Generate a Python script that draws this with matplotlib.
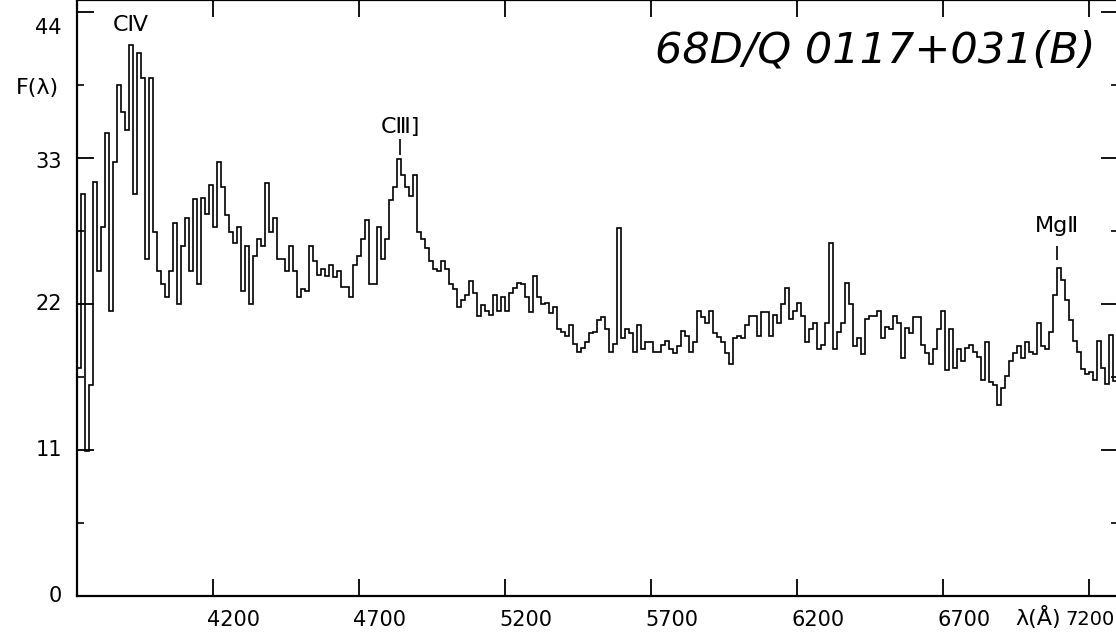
"""Quasar spectrum 68D/Q 0117+031(B), redrawn as a step plot."""
import numpy as np
import matplotlib
matplotlib.use("Agg")
import matplotlib.pyplot as plt
from matplotlib import font_manager

# spectrum: uniform wavelength bins, flux
WAVE_START = 3734.0   # Angstrom, first bin edge
BIN_WIDTH = 13.7      # Angstrom
FLUX = [
    17.2, 30.3, 10.9, 15.9, 31.2, 24.5, 27.8, 34.9, 21.5, 32.7,
    38.5, 36.5, 35.1, 41.5, 30.3, 40.9, 39.0, 25.4, 39.0, 27.4,
    24.5, 23.5, 22.5, 24.5, 28.1, 22.0, 26.4, 28.5, 24.5, 29.9,
    23.5, 30.0, 28.8, 31.0, 27.8, 32.7, 30.8, 28.7, 27.4, 26.6,
    27.8, 23.0, 26.4, 22.0, 25.6, 26.9, 26.4, 31.1, 27.4, 28.5,
    25.4, 25.4, 24.5, 26.4, 24.5, 22.5, 23.1, 23.0, 26.4, 25.2,
    24.2, 24.6, 24.1, 24.9, 24.0, 24.5, 23.3, 23.3, 22.5, 24.9,
    25.6, 26.9, 28.3, 23.5, 23.5, 27.8, 25.4, 26.9, 29.8, 30.8,
    32.9, 31.7, 30.8, 30.1, 31.7, 27.4, 26.9, 26.2, 25.2, 24.6,
    24.5, 25.2, 24.6, 23.5, 23.1, 21.8, 22.3, 22.7, 23.7, 22.8,
    21.1, 21.9, 21.5, 21.2, 22.7, 21.5, 22.5, 21.5, 22.8, 23.2,
    23.6, 23.5, 22.5, 21.4, 24.1, 22.5, 22.0, 22.1, 21.3, 21.8,
    20.1, 19.9, 19.6, 20.4, 19.0, 18.4, 18.7, 19.1, 19.8, 19.9,
    20.8, 21.0, 20.1, 18.4, 19.0, 27.7, 19.4, 20.1, 19.8, 18.4,
    20.4, 18.6, 19.1, 19.1, 18.4, 18.4, 18.9, 19.2, 18.6, 18.3,
    18.8, 20.0, 19.6, 18.4, 19.1, 21.5, 21.0, 20.6, 21.5, 19.8,
    19.5, 19.1, 18.3, 17.5, 19.4, 19.6, 19.4, 20.4, 21.1, 21.1,
    19.6, 21.4, 21.4, 19.6, 21.2, 20.6, 22.0, 23.2, 20.9, 21.5,
    22.1, 21.1, 19.1, 20.1, 20.6, 18.6, 18.9, 20.6, 26.6, 18.6,
    19.9, 20.6, 23.6, 22.0, 18.8, 19.4, 18.2, 20.9, 21.1, 21.1,
    21.5, 19.4, 20.3, 20.1, 21.1, 20.6, 17.9, 20.2, 19.8, 21.0,
    21.0, 18.9, 18.3, 17.5, 18.6, 20.1, 21.5, 17.0, 20.1, 17.2,
    18.6, 17.7, 18.7, 18.9, 18.4, 18.0, 16.3, 19.1, 16.1, 15.9,
    14.4, 15.7, 16.6, 17.7, 18.3, 18.8, 17.9, 19.1, 18.4, 18.2,
    20.6, 18.8, 18.6, 19.9, 22.7, 24.7, 23.8, 22.3, 20.8, 19.2,
    18.4, 17.1, 16.7, 16.9, 16.3, 19.2, 17.2, 16.0, 19.7, 16.2,
]

X_TICKS = [4200, 4700, 5200, 5700, 6200, 6700, 7200]
Y_TICKS = [0, 11, 22, 33, 44]
Y_MINOR = [5.5, 16.5, 27.5, 38.5]

# emission line labels
LINE_LABELS = ["C\u2163", "C\u2162]", "Mg\u2161"]
LINE_WAVES = [3919, 4840, 7090]
LABEL_Y = [43.0, 35.3, 27.9]
DASH_LOW = [None, 33.2, 25.3]
DASH_HIGH = [None, 34.4, 26.4]

TITLE = "68D/Q 0117+031(B)"

# prefer a narrow face, the scan uses a condensed plotter font
names = {f.name for f in font_manager.fontManager.ttflist}
narrow = [n for n in ["Liberation Sans Narrow"] if n in names]
FAMILY = narrow + ["DejaVu Sans"]
plt.rcParams["font.family"] = FAMILY

W, H = 1116, 636
fig = plt.figure(figsize=(W / 100, H / 100), dpi=100)
ax = fig.add_axes([77 / W, 40 / H, (1118 - 77) / W, 596 / H])

edges = WAVE_START + BIN_WIDTH * np.arange(len(FLUX) + 1)
ax.stairs(FLUX, edges, color="black", linewidth=1.2, baseline=None)

ax.set_xlim(3734, 7299)
ax.set_ylim(0, 44.9)
ax.set_xticks(X_TICKS)
ax.set_yticks(Y_TICKS)
ax.set_yticks(Y_MINOR, minor=True)
ax.tick_params(which="major", direction="in", length=12, width=1.3,
               top=True, right=True, labelbottom=False, labelleft=False)
ax.tick_params(which="minor", direction="in", length=5, width=1.2,
               left=True, right=True)
for sp in ax.spines.values():
    sp.set_linewidth(1.6)

# y labels; the top one sits lower in the scan
y_shift = {44: -16, 33: -4}
for v in Y_TICKS:
    ax.annotate(str(v), xy=(0, v), xycoords=("axes fraction", "data"),
                xytext=(-15, y_shift.get(v, 0)), textcoords="offset pixels",
                ha="right", va="center", fontsize=15)
for t in X_TICKS:
    if t == X_TICKS[-1]:
        # squeezed against the right edge in the scan
        ax.annotate(str(t), xy=(t, 0), xycoords=("data", "axes fraction"),
                    xytext=(26, -14), textcoords="offset pixels",
                    ha="right", va="top", fontsize=14)
    else:
        ax.annotate(str(t), xy=(t, 0), xycoords=("data", "axes fraction"),
                    xytext=(-6, -14), textcoords="offset pixels",
                    ha="left", va="top", fontsize=15)

fig.text(1038 / W, 1 - 618 / H, "\u03bb(\u00c5)", ha="center", va="center",
         fontsize=16)
fig.text(37 / W, 1 - 88 / H, "F(\u03bb)", ha="center", va="center",
         fontsize=16)
fig.text(875 / W, 1 - 50 / H, TITLE, ha="center", va="center",
         fontsize=31, style="italic", fontweight="light")

for lab, w, y, lo, hi in zip(LINE_LABELS, LINE_WAVES, LABEL_Y, DASH_LOW, DASH_HIGH):
    ax.text(w, y, lab, ha="center", va="center", fontsize=16)
    if lo is not None:
        ax.vlines(w, lo, hi, color="black", linewidth=1.2)

fig.savefig("out.png", dpi=100)
